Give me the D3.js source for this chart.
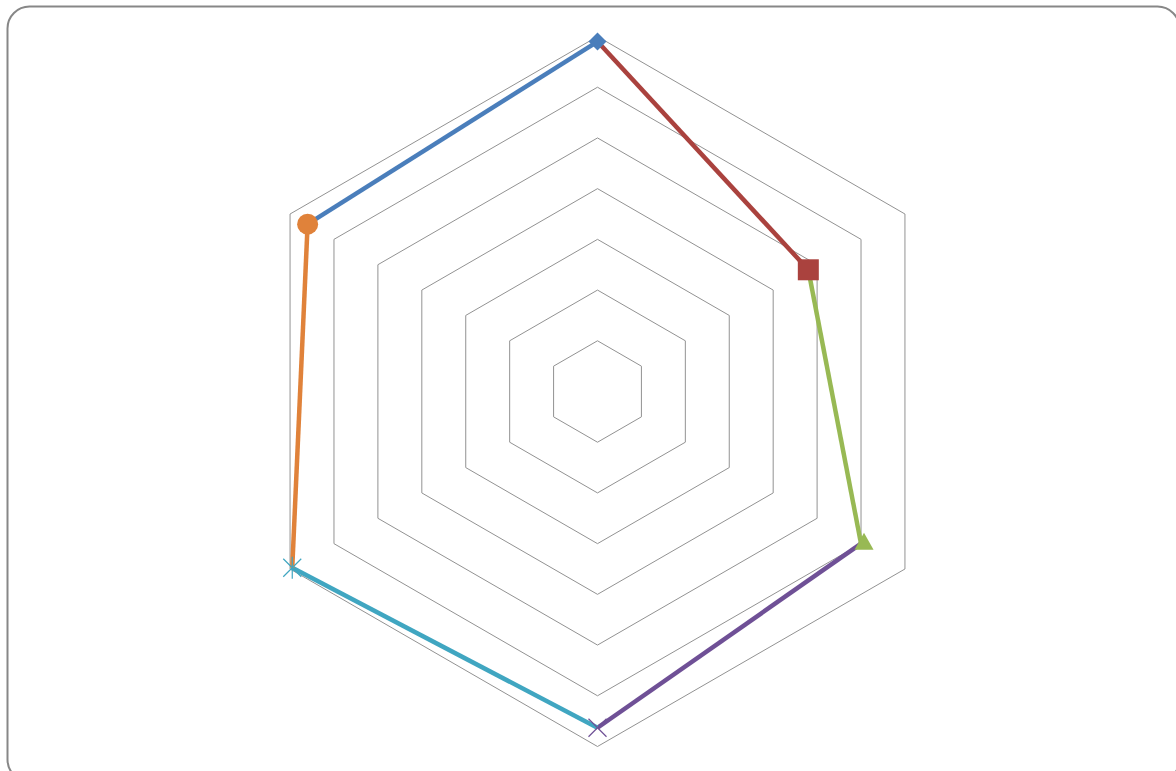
<!DOCTYPE html>
<html lang="en">
<head>
<meta charset="UTF-8">
<title>Radar</title>
<script src="https://d3js.org/d3.v7.min.js"></script>
<style>
  body { margin: 0; background: #fff; }
  svg { display: block; }
</style>
</head>
<body>
<svg id="chart" width="1176" height="771"></svg>
<script>
    // axes of the radar (no labels shown), values read on each axis
    const axes = [0, 1, 2, 3, 4, 5];
    const values = [6.9, 4.8, 6.0, 6.63, 6.95, 6.6];
    const levels = [1, 2, 3, 4, 5, 6, 7];
    const colors = ["#4A7EBB", "#AA423E", "#98B954", "#6F5096", "#40A6C1", "#E0823A"];
    const markers = ["diamond", "square", "triangle", "x", "star", "circle"];

    let svg = d3.select('#chart'),
        cx = 597.5, cy = 391.5, R = 355;

    // frame
    svg.append('rect')
        .attr('x', 7.5).attr('y', 6.5)
        .attr('width', 1172).attr('height', 775)
        .attr('rx', 22).attr('ry', 22)
        .style('fill', '#fff').style('stroke', '#878787').style('stroke-width', 2);

    let r = d3.scaleLinear().domain([0, 7]).range([0, R]),
        ang = d3.scaleLinear().domain([0, axes.length]).range([0, 2 * Math.PI]);

    function pos(i, v) {
        let a = ang(i);
        return [cx + r(v) * Math.sin(a), cy - r(v) * Math.cos(a)];
    }

    // grid rings
    svg.append('g').selectAll('path').data(levels).enter().append('path')
        .attr('d', l => d3.line()(axes.map(i => pos(i, l))) + 'Z')
        .style('fill', 'none').style('stroke', '#929292').style('stroke-width', 1);

    // each series goes from previous axis to its own axis
    let series = axes.map(k => {
        let p = (k + axes.length - 1) % axes.length;
        return { k: k, pts: [pos(p, values[p]), pos(k, values[k])] };
    });

    svg.append('g').selectAll('path').data(series).enter().append('path')
        .attr('d', d => d3.line()(d.pts))
        .style('fill', 'none')
        .style('stroke', d => colors[d.k])
        .style('stroke-width', 4.5)
        .style('stroke-linecap', 'butt');

    // markers
    let gm = svg.append('g');
    series.forEach(d => {
        let [x, y] = d.pts[1], c = colors[d.k], m = markers[d.k];
        let g = gm.append('g').attr('transform', `translate(${x},${y})`);
        if (m == 'diamond') {
            g.append('path').attr('d', 'M0,-9L9,0L0,9L-9,0Z').style('fill', c);
        } else if (m == 'square') {
            g.append('rect').attr('x', -10.5).attr('y', -10.5).attr('width', 21).attr('height', 21).style('fill', c);
        } else if (m == 'triangle') {
            g.append('path').attr('d', 'M0,-11L9.5,6L-9.5,6Z').attr('transform', 'translate(3,0)').style('fill', c);
        } else if (m == 'circle') {
            g.append('circle').attr('r', 10.5).style('fill', c);
        } else if (m == 'x') {
            g.append('path').attr('d', 'M-9,-9L9,9M-9,9L9,-9')
                .style('stroke', c).style('stroke-width', 1.2).style('fill', 'none');
        } else if (m == 'star') {
            g.append('path').attr('d', 'M-9,-9L9,9M-9,9L9,-9M0,-11L0,11')
                .style('stroke', c).style('stroke-width', 1.2).style('fill', 'none');
        }
    });
</script>
</body>
</html>
